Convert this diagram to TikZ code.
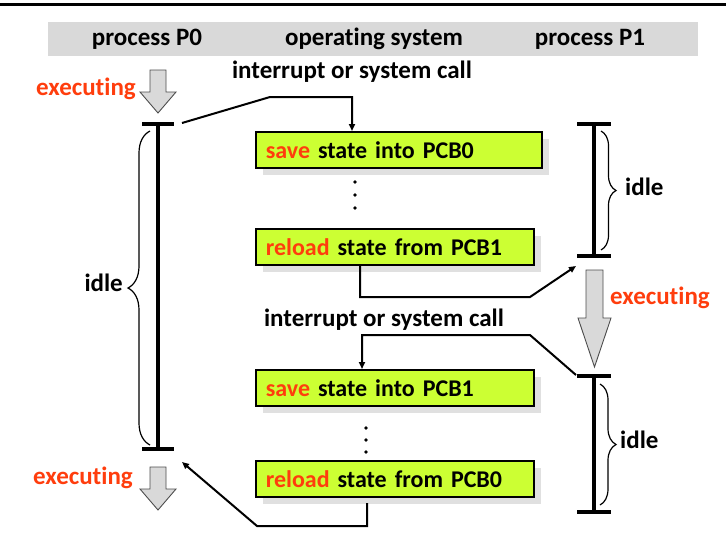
\documentclass[tikz,border=0pt]{standalone}
\usepackage{fontspec}
\setmainfont{Carlito}[Ligatures={NoCommon,NoRare,NoDiscretionary}]
\usetikzlibrary{arrows.meta,shadows,decorations.pathreplacing}
\definecolor{redtxt}{HTML}{FF3D0D}
\definecolor{limefill}{HTML}{CCFF33}
\definecolor{hdr}{HTML}{D9D9D9}
\begin{document}
\begin{tikzpicture}[x=1pt,y=-1pt,
  every node/.style={font=\bfseries\fontsize{25}{30}\selectfont},
  lbl/.style={inner sep=0pt},
  redlbl/.style={text=redtxt, inner sep=0pt},
  osbox/.style={draw=black, line width=1.6pt, fill=limefill, minimum height=36pt,
    anchor=north west, inner xsep=10pt, inner ysep=2pt, align=left,
    font=\bfseries\fontsize{24}{28}\selectfont,
    drop shadow={shadow xshift=7pt, shadow yshift=-7pt, fill=black!12, opacity=1}},
  bar/.style={line width=4.5pt},
  conn/.style={line width=2pt},
  arr/.style={conn, -{Triangle[length=7pt,width=6pt]}},
  bigarrow/.style={fill=black!15, draw=black!70, line width=0.9pt},
  bracestyle/.style={decorate, decoration={brace, amplitude=#1}, line width=1.2pt}
]
\useasboundingbox (0,0) rectangle (726,547);
% top rule and header band
\fill[black] (0,3) rectangle (726,6);
\fill[hdr] (48,22) rectangle (698,56);
\node[lbl] (h0) at (147,39) {process P0};
\node[lbl] (h1) at (374,39) {operating system};
\node[lbl] (h2) at (590,39) {process P1};

% boxes
\node[osbox, text width=266pt] (b1) at (255,131) {\textcolor{redtxt}{save} state into PCB0};
\node[osbox, text width=258pt] (b2) at (255,228) {\textcolor{redtxt}{reload} state from PCB1};
\node[osbox, text width=258pt] (b3) at (255,369) {\textcolor{redtxt}{save} state into PCB1};
\node[osbox, text width=258pt] (b4) at (255,460) {\textcolor{redtxt}{reload} state from PCB0};

% dots
\foreach \yy in {182,195,208} \fill (355,\yy) circle (1.8pt);
\foreach \yy in {428,440,452} \fill (366,\yy) circle (1.8pt);

% process P0 bar
\coordinate (p0t) at (158,124);
\coordinate (p0b) at (158,449);
\draw[bar] (p0t) -- (p0b);
\draw[bar] ([xshift=-16pt]p0t) -- ([xshift=16pt]p0t);
\draw[bar] ([xshift=-16pt]p0b) -- ([xshift=16pt]p0b);
\draw[bracestyle=22pt] (150,445) -- (150,131);
\node[lbl, anchor=east] (idle0) at (123,283) {idle};

% process P1 bars
\coordinate (p1t) at (594,124);
\coordinate (p1b) at (594,256);
\draw[bar] (p1t) -- (p1b);
\draw[bar] ([xshift=-17pt]p1t) -- ([xshift=17pt]p1t);
\draw[bar] ([xshift=-17pt]p1b) -- ([xshift=17pt]p1b);
\draw[bracestyle=15pt] (601,131) -- (601,250);
\node[lbl, anchor=west] (idle1) at (625,187) {idle};

\coordinate (p2t) at (594,376);
\coordinate (p2b) at (594,512);
\draw[bar] (p2t) -- (p2b);
\draw[bar] ([xshift=-17pt]p2t) -- ([xshift=17pt]p2t);
\draw[bar] ([xshift=-17pt]p2b) -- ([xshift=17pt]p2b);
\draw[bracestyle=16pt] (600,384) -- (600,505);
\node[lbl, anchor=west] (idle2) at (620,440) {idle};

% big gray arrows
\draw[bigarrow] (150,70) -- (166,70) -- (166,92) -- (176,92) -- (158,113) -- (140,92) -- (150,92) -- cycle;
\draw[bigarrow] (586,270) -- (603,270) -- (603,318) -- (611,318) -- (594.5,367) -- (578,318) -- (586,318) -- cycle;
\draw[bigarrow] (150,467) -- (166,467) -- (166,489) -- (176,489) -- (158,510) -- (140,489) -- (150,489) -- cycle;

\node[redlbl, anchor=east] (ex0) at (136,89) {executing};
\node[redlbl, anchor=west] (ex1) at (610,298) {executing};
\node[redlbl, anchor=east] (ex2) at (133,478) {executing};

% interrupt labels
\node[lbl] (int1) at (352,72) {interrupt or system call};
\node[lbl] (int2) at (384,320) {interrupt or system call};

% connectors
\coordinate (c1a) at (182,123);
\coordinate (c1b) at (270,97);
\draw[arr] (c1a) -- (c1b) -| ([xshift=97pt]b1.north west);

\coordinate (c2b) at (530,297);
\coordinate (c2c) at (576,266);
\draw[arr] ([xshift=105pt]b2.south west) |- (c2b) -- (c2c);

\coordinate (c3a) at (576,375);
\coordinate (c3b) at (530,335);
\draw[arr] (c3a) -- (c3b) -| ([xshift=107pt]b3.north west);

\coordinate (c4a) at (367,503);
\coordinate (c4b) at (257,526);
\coordinate (c4c) at (182,462);
\draw[arr] (c4a) |- (c4b) -- (c4c);
\end{tikzpicture}
\end{document}
